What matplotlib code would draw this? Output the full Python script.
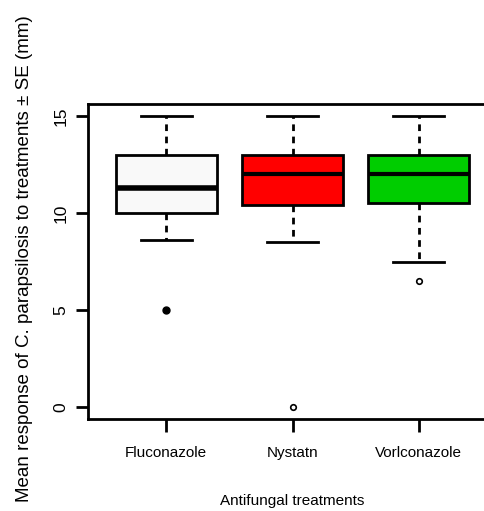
import matplotlib
matplotlib.use("Agg")
import matplotlib.pyplot as plt

# Boxplot summary of inhibition zones per antifungal (mm)
treatments = ["Fluconazole", "Nystatin", "Voriconazole"]
tick_labels = ["Fluconazole", "Nystatn", "Vorlconazole"]
medians = [11.3, 12.0, 12.0]
q1 = [10.0, 10.4, 10.5]
q3 = [13.0, 13.0, 13.0]
whisker_lo = [8.6, 8.5, 7.5]
whisker_hi = [15.0, 15.0, 15.0]
outliers = [[5.0], [0.0], [6.5]]
box_colors = ["#f9f9f9", "#ff0000", "#00cd00"]
yticks = [0, 5, 10, 15]

plt.rcParams["font.family"] = ["Liberation Sans", "DejaVu Sans"]

W, H = 484, 511
fig = plt.figure(figsize=(W / 100, H / 100), dpi=100)
# axes box runs past the right edge of the canvas
left, right, top, bottom = 88, 497, 104.4, 418.6
ax = fig.add_axes([left / W, 1 - bottom / H, (right - left) / W, (bottom - top) / H])

stats = []
for i, name in enumerate(treatments):
    stats.append({
        "label": name,
        "med": medians[i],
        "q1": q1[i],
        "q3": q3[i],
        "whislo": whisker_lo[i],
        "whishi": whisker_hi[i],
        "fliers": outliers[i],
    })

bp = ax.bxp(
    stats,
    positions=[1, 2, 3],
    widths=0.8,
    patch_artist=True,
    showfliers=True,
    boxprops=dict(edgecolor="black", linewidth=2),
    medianprops=dict(color="black", linewidth=3),
    whiskerprops=dict(color="black", linewidth=2, linestyle=(0, (2.4, 2.0))),
    capprops=dict(color="black", linewidth=2),
    capwidths=0.4,
)
for patch, c in zip(bp["boxes"], box_colors):
    patch.set_facecolor(c)
bp["medians"][0].set_linewidth(4)

flier_styles = [
    dict(marker="o", markersize=5, markerfacecolor="black", markeredgecolor="black"),
    dict(marker="o", markersize=4, markerfacecolor="white", markeredgecolor="black", markeredgewidth=1.2),
    dict(marker="o", markersize=4, markerfacecolor="white", markeredgecolor="black", markeredgewidth=1.2),
]
for fl, st in zip(bp["fliers"], flier_styles):
    fl.set(**st)

ax.set_xlim(0.38, 3.62)
ax.set_ylim(-0.6, 15.6)
ax.set_yticks(yticks)
ax.set_yticklabels([str(v) for v in yticks], rotation=90, va="center")
ax.set_xticks([1, 2, 3])
ax.set_xticklabels(tick_labels)

for sp in ax.spines.values():
    sp.set_linewidth(2)
ax.tick_params(axis="both", length=9, width=2, labelsize=11, colors="black")
ax.tick_params(axis="y", pad=5, labelsize=12.5)
ax.tick_params(axis="x", pad=11)

ax.set_xlabel("Antifungal treatments", fontsize=11, labelpad=24)
ax.set_ylabel("Mean response of C. parapsilosis to treatments \u00b1 SE (mm)",
              fontsize=13.5, va="center")
ax.yaxis.set_label_coords(-63 / (right - left), 0.51)

fig.savefig("out.png", dpi=100)
